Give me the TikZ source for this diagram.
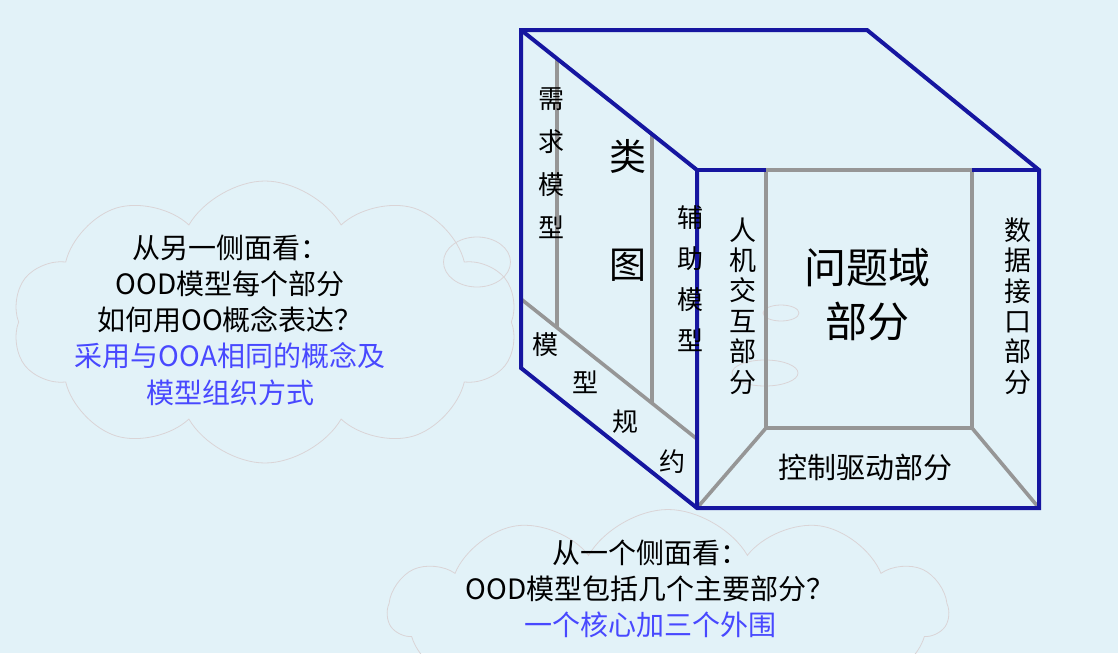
\documentclass[tikz,border=0pt]{standalone}
\usepackage{fontspec}
\setmainfont{Noto Sans CJK SC}
\usetikzlibrary{shapes.symbols,shapes.geometric}
\definecolor{bgc}{RGB}{226,242,248}
\definecolor{cubeblue}{RGB}{22,22,160}
\definecolor{cubegray}{RGB}{150,150,150}
\definecolor{cloudc}{RGB}{218,212,214}
\definecolor{txtblue}{RGB}{72,72,255}
\tikzset{
  blueline/.style={draw=cubeblue, line width=4pt, line join=miter},
  grayline/.style={draw=cubegray, line width=3.6pt},
  cloudline/.style={draw=cloudc, line width=0.8pt},
  lbl/.style 2 args={font=\fontsize{#1}{#2}\selectfont, align=center, inner sep=0pt, text=black},
}
\begin{document}
\begin{tikzpicture}[x=1pt,y=-1pt]
\useasboundingbox (0,0) rectangle (1118,653);
\fill[bgc] (0,0) rectangle (1118,653);

% clouds
\node[cloud, cloud puffs=10, cloud puff arc=120, cloud ignores aspect, minimum width=505pt, minimum height=282pt, cloudline] (leftcloud) at (265,322) {};
\node[ellipse, minimum width=67pt, minimum height=50pt, cloudline] (bubble1) at (477,262) {};
\node[ellipse, minimum width=36pt, minimum height=16pt, cloudline] (bubble2) at (781,313) {};
\node[ellipse, minimum width=66pt, minimum height=26pt, cloudline] (bubble3) at (765,373) {};
\node[cloud, cloud puffs=11, cloud puff arc=120, cloud ignores aspect, minimum width=560pt, minimum height=205pt, cloudline] (bottomcloud) at (668,612) {};

% cube corners
\coordinate (A) at (521,30);
\coordinate (B) at (867,30);
\coordinate (C) at (1039,170);
\coordinate (D) at (697,170);
\coordinate (E) at (521,368);
\coordinate (F) at (697,508);
\coordinate (G) at (1039,508);
\coordinate (IL) at (766,170);
\coordinate (IR) at (972,170);
\coordinate (JL) at (766,428);
\coordinate (JR) at (972,428);
\coordinate (P1) at (557,58.6);
\coordinate (P2) at (557,327.6);
\coordinate (Q1) at (652,134.2);
\coordinate (Q2) at (652,403.2);
\coordinate (R1) at (521,299);
\coordinate (R2) at (697,439);

% gray inner lines
\draw[grayline] (IL) -- (JL) -- (JR) -- (IR) -- cycle;
\draw[grayline] (JL) -- (F);
\draw[grayline] (JR) -- (G);
\draw[grayline] (P1) -- (P2);
\draw[grayline] (Q1) -- (Q2);
\draw[grayline] (R1) -- (R2);

% blue outline
\draw[blueline] (A) -- (B) -- (C) -- (G) -- (F) -- (E) -- cycle;
\draw[blueline] (A) -- (D) -- (F);
\draw[blueline] (D) -- (IL);
\draw[blueline] (IR) -- (C);

% cube labels
\node[lbl={26}{43}] (xuqiu) at (551,163) {需\\求\\模\\型};
\node[lbl={37}{40}] (lei) at (628,156) {类};
\node[lbl={37}{40}] (tu) at (628,265) {图};
\node[lbl={26}{41}] (fuzhu) at (690,279) {辅\\助\\模\\型};
\node[lbl={27}{30.4}] (renji) at (743,306) {人\\机\\交\\互\\部\\分};
\node[lbl={27}{30.4}] (shuju) at (1018,306) {数\\据\\接\\口\\部\\分};
\node[lbl={42}{54}] (wenti) at (867,295) {问题域\\部分};
\node[lbl={29}{30}] (kongzhi) at (865,467) {控制驱动部分};
\node[lbl={26}{30}] (mo) at (545,345) {模};
\node[lbl={26}{30}] (xing) at (585,382) {型};
\node[lbl={26}{30}] (gui) at (625,422) {规};
\node[lbl={26}{30}] (yue) at (672,462) {约};

% cloud texts
\node[lbl={28}{36.2}] (lefttext) at (230,320) {从另一侧面看：\\OOD模型每个部分\\如何用OO概念表达？\\\textcolor{txtblue}{采用与OOA相同的概念及}\\\textcolor{txtblue}{模型组织方式}};
\node[lbl={28}{36}] (bottomtext) at (650,589) {从一个侧面看：\\OOD模型包括几个主要部分？\\\textcolor{txtblue}{一个核心加三个外围}};
\end{tikzpicture}
\end{document}
